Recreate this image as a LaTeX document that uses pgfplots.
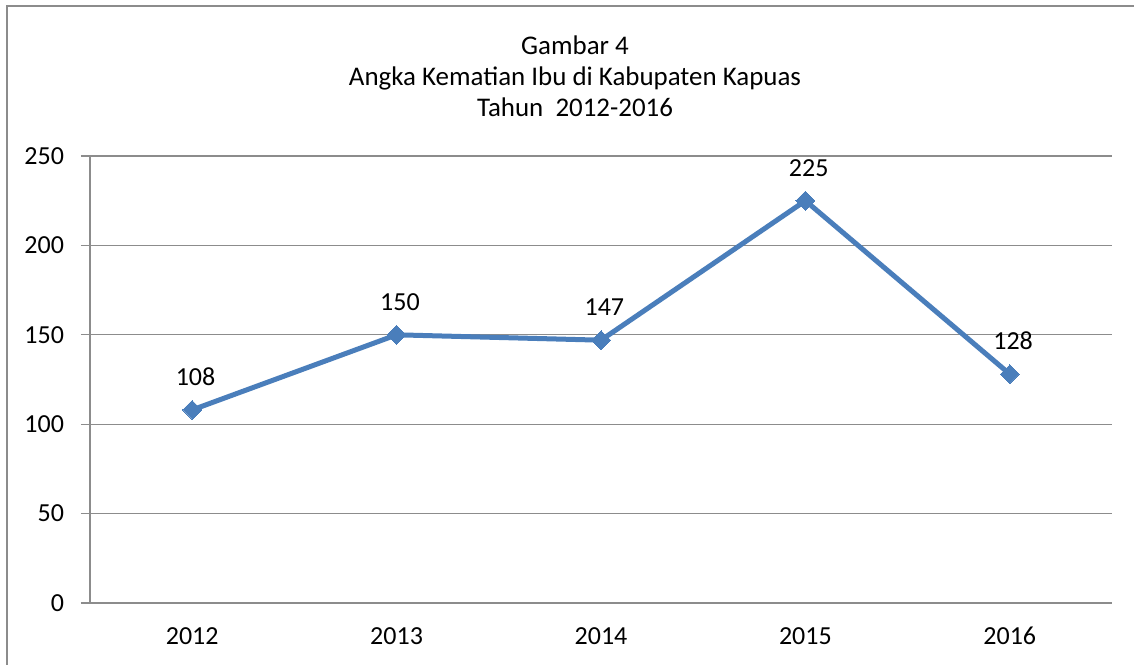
\documentclass[border=0pt]{standalone}
\usepackage{pgfplots}
\pgfplotsset{compat=1.18}
\usepackage{fontspec}
\setmainfont{Carlito}
\definecolor{lineblue}{HTML}{4A7EBB}
\definecolor{gridgray}{HTML}{8C8C8C}
\begin{document}
\begin{tikzpicture}
\path[use as bounding box] (0pt,0pt) rectangle (850.5pt,-498pt);
\draw[gridgray, line width=1.5pt] (5.25pt,-505pt) -- (5.25pt,-4.5pt) -- (856pt,-4.5pt);
\node[align=center, font=\fontsize{20.2pt}{23.2pt}\selectfont] at (431.25pt,-57pt) {Gambar 4\\Angka Kematian Ibu di Kabupaten Kapuas\\Tahun\ \ 2012-2016};
\begin{axis}[
  at={(67.5pt,-452.25pt)}, anchor=south west,
  scale only axis,
  width=766.5pt, height=335.25pt,
  xmin=-0.5, xmax=4.5, ymin=0, ymax=250,
  ytick={0,50,100,150,200,250},
  xtick={0,1,2,3,4},
  xticklabels={2012,2013,2014,2015,2016},
  minor xtick={-0.5,0.5,1.5,2.5,3.5,4.5},
  axis x line*=bottom, axis y line*=left,
  axis line style={gridgray, line width=1pt, -},
  ymajorgrids, major grid style={gridgray, line width=1pt},
  major tick length=0pt,
  minor tick length=6.75pt,
  extra y ticks={0,50,100,150,200,250},
  extra y tick labels={},
  extra y tick style={major tick length=6.75pt, tick style={gridgray, line width=1pt}, grid=none},
  tick align=outside,
  xtick style={draw=none},
  minor tick style={gridgray, line width=1pt},
  ytick style={gridgray, line width=1pt},
  tick label style={font=\fontsize{19.5pt}{22pt}\selectfont},
  yticklabel style={anchor=east, xshift=-16pt},
  xticklabel style={anchor=base, yshift=-31pt},
  /pgf/number format/assume math mode=true,
  clip=false,
]
\addplot[lineblue, line width=3.75pt, mark=square*, mark size=5pt,
  mark options={line width=0pt, fill=lineblue, rotate=45},
  nodes near coords,
  every node near coord/.style={anchor=center, yshift=24.75pt, xshift=2.5pt, black, font=\fontsize{19.5pt}{22pt}\selectfont}]
  coordinates {(0,108) (1,150) (2,147) (3,225) (4,128)};
\end{axis}
\end{tikzpicture}
\end{document}
